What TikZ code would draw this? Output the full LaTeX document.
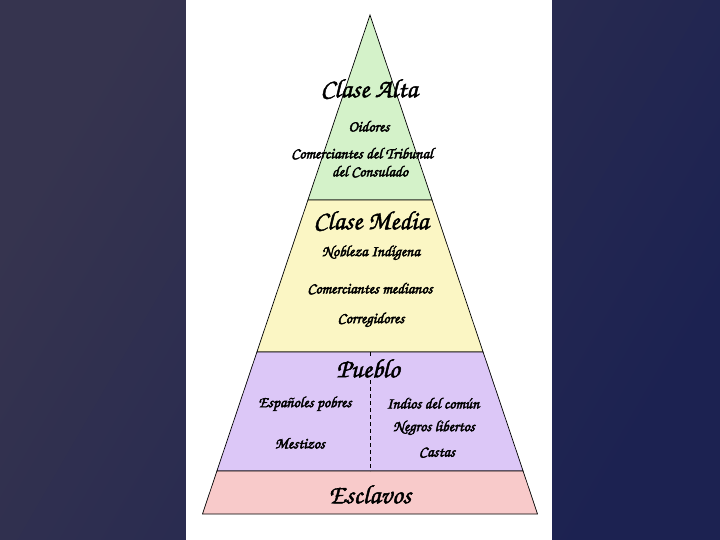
\documentclass[tikz,border=0pt]{standalone}
\usepackage[T1,TU]{fontenc}
\newcommand\chanc{\fontencoding{T1}\fontfamily{pzc}\fontseries{mb}\fontshape{it}\selectfont}
\newcommand\fakebold[1]{\special{pdf:literal q 2 Tr 0.45 w}#1\special{pdf:literal Q}}
\definecolor{bgA}{HTML}{36344F}
\definecolor{bgB}{HTML}{1C2251}
\definecolor{altaC}{HTML}{D4F2C9}
\definecolor{mediaC}{HTML}{FBF6C4}
\definecolor{puebloC}{HTML}{DCC7F7}
\definecolor{esclC}{HTML}{F8CACA}
\tikzset{
  band/.style={draw=black, line width=0.7pt, line join=miter},
  title/.style={font=\chanc\fontsize{26.5}{30}\selectfont, inner sep=0pt},
  item/.style={font=\chanc\fontsize{15.5}{18}\selectfont, inner sep=0pt},
}
\begin{document}
\begin{tikzpicture}[x=1pt,y=-1pt]
\useasboundingbox (0,0) rectangle (720,540);
\shade[left color=bgA, right color=bgB, shading angle=60] (0,0) rectangle (720,540);
\fill[white] (186,0.5) rectangle (552,540);
% bands
\filldraw[band, fill=altaC] (370,15) -- (432.1,200) -- (307.9,200) -- cycle;
\filldraw[band, fill=mediaC] (307.9,200) -- (432.1,200) -- (483.1,352) -- (256.9,352) -- cycle;
\filldraw[band, fill=puebloC] (256.9,352) -- (483.1,352) -- (523.1,471) -- (216.9,471) -- cycle;
\filldraw[band, fill=esclC] (216.9,471) -- (523.1,471) -- (537.5,514) -- (202.5,514) -- cycle;
\coordinate (dtop) at (370,352);
\coordinate (dbot) at (370,471);
\draw[line width=0.7pt, dash pattern=on 4pt off 3pt] (dtop) -- (dbot);
% texts
\node[title] (alta) at (369,88) {\fakebold{Clase Alta}};
\node[item] (oid) at (369,126) {\fakebold{Oidores}};
\node[item] (com1) at (362,153) {\fakebold{Comerciantes del Tribunal}};
\node[item] (com2) at (370,171) {\fakebold{del Consulado}};
\node[title] (media) at (371,220) {\fakebold{Clase Media}};
\node[item] (nob) at (371,253) {\fakebold{Nobleza Ind\'{\i}gena}};
\node[item] (cmed) at (370,288) {\fakebold{Comerciantes medianos}};
\node[item] (corr) at (371,320) {\fakebold{Corregidores}};
\node[title, fill=puebloC, inner sep=1.5pt] (pueblo) at (368,368) {\fakebold{Pueblo}};
\node[item] (esp) at (305,404) {\fakebold{Espa\~noles pobres}};
\node[item] (ind) at (433,403) {\fakebold{Indios del com\'un}};
\node[item] (neg) at (434,428) {\fakebold{Negros libertos}};
\node[item] (mes) at (300,443) {\fakebold{Mestizos}};
\node[item] (cas) at (437,452) {\fakebold{Castas}};
\node[title] (escl) at (370,494) {\fakebold{Esclavos}};
\end{tikzpicture}
\end{document}
